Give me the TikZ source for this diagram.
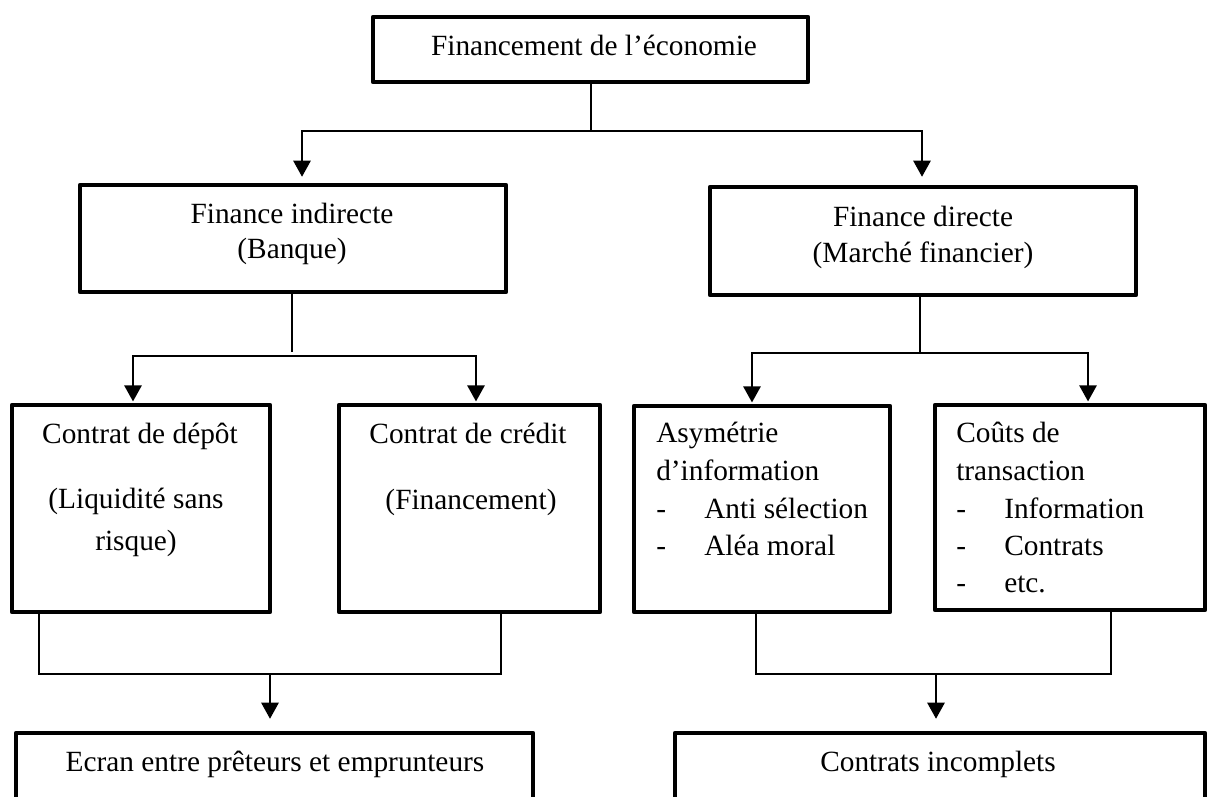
\documentclass[tikz,border=0pt]{standalone}
\usepackage{fontspec}
\setmainfont{Liberation Serif}
\usetikzlibrary{arrows.meta,fit}
\tikzset{
  box/.style={draw, line width=3.4pt, line join=round, inner sep=0pt},
  conn/.style={line width=1.2pt},
  arr/.style={conn, -{Triangle[length=12pt,width=13pt]}},
  lbl/.style={inner sep=0pt, anchor=base, font=\fontsize{22}{26}\selectfont},
  lbll/.style={lbl, anchor=base west},
}
\newcommand\dashitem[1]{\makebox[36pt][l]{-}#1}

\begin{document}
\begin{tikzpicture}[x=0.75pt,y=-0.75pt]
\useasboundingbox (0,0) rectangle (1213,796);

% boxes
\node[box, fit={(373,17) (808,82)}] (top) {};
\node[box, fit={(80,185) (506,292)}] (indirect) {};
\node[box, fit={(710,187) (1136,295)}] (direct) {};
\node[box, fit={(12,405) (270,612)}] (depot) {};
\node[box, fit={(339,405) (600,612)}] (credit) {};
\node[box, fit={(634,406) (890,612)}] (asym) {};
\node[box, fit={(935,405) (1205,610)}] (couts) {};
\node[box, fit={(16,733) (533,830)}] (ecran) {};
\node[box, fit={(675,733) (1205,830)}] (incomplets) {};

% texts
\node[lbl] (topT) at (594,55) {Financement de l’économie};

\node[lbl] (indirectT1) at (292,223) {Finance indirecte};
\node[lbl] (indirectT2) at (292,258) {(Banque)};

\node[lbl] (directT1) at (923,226) {Finance directe};
\node[lbl] (directT2) at (923,262) {(Marché financier)};

\node[lbl] (depotT1) at (140,443) {Contrat de dépôt};
\node[lbl] (depotT2) at (136,508) {(Liquidité sans};
\node[lbl] (depotT3) at (136,550) {risque)};

\node[lbl] (creditT1) at (468,443) {Contrat de crédit};
\node[lbl] (creditT2) at (471,509) {(Financement)};

\node[lbll] (asymT1) at (656,442) {Asymétrie};
\node[lbll] (asymT2) at (656,480) {d’information};
\node[lbll] (asymT3) at (656,518) {\dashitem{Anti sélection}};
\node[lbll] (asymT4) at (656,555) {\dashitem{Aléa moral}};

\node[lbll] (coutsT1) at (956,442) {Coûts de};
\node[lbll] (coutsT2) at (956,480) {transaction};
\node[lbll] (coutsT3) at (956,518) {\dashitem{Information}};
\node[lbll] (coutsT4) at (956,555) {\dashitem{Contrats}};
\node[lbll] (coutsT5) at (956,592) {\dashitem{etc.}};

\node[lbl] (ecranT) at (275,771) {Ecran entre prêteurs et emprunteurs};
\node[lbl] (incompletsT) at (938,771) {Contrats incomplets};

% junction points
\coordinate (t1)  at (591,131);
\coordinate (t1L) at (302,131);
\coordinate (t1R) at (922,131);
\coordinate (b1)  at (292,352);
\coordinate (b1L) at (133,356);
\coordinate (b1R) at (476,356);
\coordinate (b2)  at (920,353);
\coordinate (b2L) at (752,353);
\coordinate (b2R) at (1088,353);
\coordinate (c1L) at (39,674);
\coordinate (c1R) at (501,674);
\coordinate (c1M) at (270,674);
\coordinate (c2L) at (756,674);
\coordinate (c2R) at (1111,674);
\coordinate (c2M) at (936,674);

% level 1 -> level 2
\draw[conn] (top.south -| t1) -- (t1);
\draw[arr, shorten >=4.5pt] (t1R) -- (t1L) -- (t1L |- indirect.north);
\draw[arr, shorten >=6pt] (t1L) -- (t1R) -- (t1R |- direct.north);

% indirect finance -> contracts
\draw[conn] (indirect.south -| b1) -- (b1);
\draw[arr, shorten >=1pt] (b1R) -- (b1L) -- (b1L |- depot.north);
\draw[arr, shorten >=1pt] (b1L) -- (b1R) -- (b1R |- credit.north);

% direct finance -> frictions
\draw[conn] (direct.south -| b2) -- (b2);
\draw[arr, shorten >=1pt] (b2R) -- (b2L) -- (b2L |- asym.north);
\draw[arr, shorten >=1pt] (b2L) -- (b2R) -- (b2R |- couts.north);

% merging into the outcomes
\draw[conn] (depot.south -| c1L) -- (c1L) -- (c1R) -- (credit.south -| c1R);
\draw[arr, shorten >=9pt] (c1M) -- (c1M |- ecran.north);
\draw[conn] (asym.south -| c2L) -- (c2L) -- (c2R) -- (couts.south -| c2R);
\draw[arr, shorten >=9pt] (c2M) -- (c2M |- incomplets.north);
\end{tikzpicture}
\end{document}
